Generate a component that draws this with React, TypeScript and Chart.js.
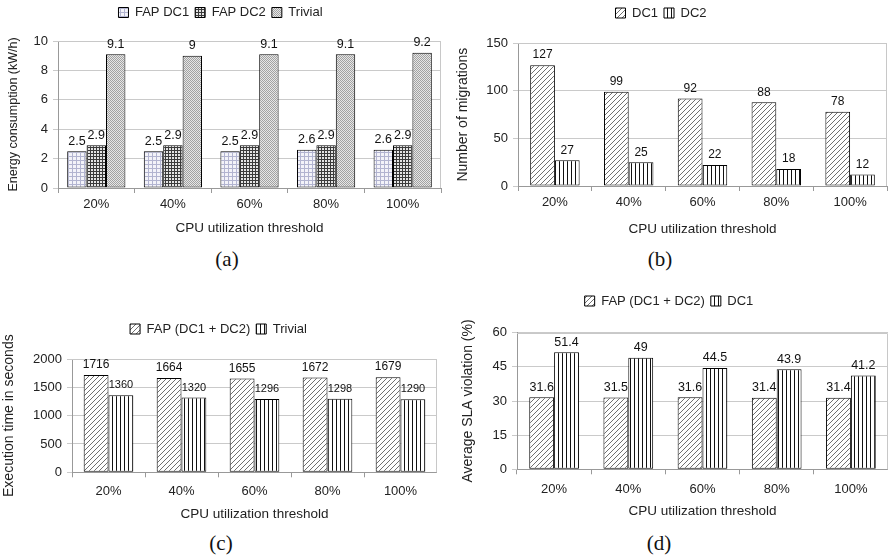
import React, { useEffect, useRef } from 'react';
import { Chart, registerables } from 'chart.js';

Chart.register(...registerables);

const FONT = '"Liberation Sans", Arial, Helvetica, sans-serif';
Chart.defaults.font.family = FONT;

// ---------- data ----------
const categories = ['20%', '40%', '60%', '80%', '100%'];
const xTitle = 'CPU utilization threshold';

const energyFapDc1 = [2.5, 2.5, 2.5, 2.6, 2.6];
const energyFapDc2 = [2.9, 2.9, 2.9, 2.9, 2.9];
const energyTrivial = [9.1, 9, 9.1, 9.1, 9.2];

const migrationsDc1 = [127, 99, 92, 88, 78];
const migrationsDc2 = [27, 25, 22, 18, 12];

const execFap = [1716, 1664, 1655, 1672, 1679];
const execTrivial = [1360, 1320, 1296, 1298, 1290];

const slaFap = [31.6, 31.5, 31.6, 31.4, 31.4];
const slaDc1 = [51.4, 49, 44.5, 43.9, 41.2];

// ---------- patterns ----------
function makePattern(kind: string): CanvasPattern | string {
  const c = document.createElement('canvas');
  const ctx = c.getContext('2d');
  if (!ctx) return '#ccc';
  if (kind === 'lightgrid') {
    c.width = 4; c.height = 4;
    ctx.fillStyle = '#f3f3f9'; ctx.fillRect(0, 0, 4, 4);
    ctx.fillStyle = '#b2b4d0'; ctx.fillRect(0, 0, 4, 1); ctx.fillRect(0, 0, 1, 4);
  } else if (kind === 'darkgrid') {
    c.width = 3; c.height = 3;
    ctx.fillStyle = '#e4e4e4'; ctx.fillRect(0, 0, 3, 3);
    ctx.fillStyle = '#3a3a3a'; ctx.fillRect(0, 0, 3, 1); ctx.fillRect(0, 0, 1, 3);
  } else if (kind === 'finecheck') {
    c.width = 2; c.height = 2;
    ctx.fillStyle = '#e6e6e6'; ctx.fillRect(0, 0, 2, 2);
    ctx.fillStyle = '#a2a2a2'; ctx.fillRect(0, 0, 1, 1); ctx.fillRect(1, 1, 1, 1);
  } else if (kind === 'diag') {
    c.width = 5; c.height = 5;
    ctx.fillStyle = '#ffffff'; ctx.fillRect(0, 0, 5, 5);
    ctx.fillStyle = '#707070';
    for (let i = 0; i < 5; i++) ctx.fillRect(i, 4 - i, 1, 1);
  } else {
    c.width = 4; c.height = 1;
    ctx.fillStyle = '#ffffff'; ctx.fillRect(0, 0, 4, 1);
    ctx.fillStyle = '#111'; ctx.fillRect(0, 0, 1, 1);
  }
  const p = ctx.createPattern(c, 'repeat');
  return p || '#ccc';
}

// ---------- plugins ----------
const legendGap = {
  id: 'legendGap',
  beforeLayout(chart: any, _a: any, opts: any) {
    const lg = chart.legend;
    if (lg && !lg.__patched) {
      const orig = lg.fit;
      lg.fit = function () {
        orig.call(this);
        this.height += (opts && opts.extra) || 0;
      };
      lg.__patched = true;
    }
  },
};

const plotBorder = {
  id: 'plotBorder',
  beforeDatasetsDraw(chart: any) {
    const { ctx, chartArea } = chart;
    ctx.save();
    ctx.strokeStyle = '#c8c8c8';
    ctx.lineWidth = 1;
    ctx.beginPath();
    ctx.moveTo(chartArea.left, Math.round(chartArea.top) + 0.5);
    ctx.lineTo(Math.round(chartArea.right) - 0.5, Math.round(chartArea.top) + 0.5);
    ctx.lineTo(Math.round(chartArea.right) - 0.5, chartArea.bottom);
    ctx.stroke();
    ctx.restore();
  },
};

const dataLabels = {
  id: 'dataLabels',
  afterDatasetsDraw(chart: any, _a: any, opts: any) {
    const ctx = chart.ctx;
    chart.data.datasets.forEach((ds: any, i: number) => {
      const meta = chart.getDatasetMeta(i);
      const size = (opts && opts.sizes && opts.sizes[i]) || 12;
      ctx.save();
      ctx.font = `${size}px ${FONT}`;
      ctx.fillStyle = '#111';
      ctx.textAlign = 'center';
      ctx.textBaseline = 'middle';
      meta.data.forEach((el: any, j: number) => {
        ctx.fillText(String(ds.data[j]), el.x, el.y - ((opts && opts.offset) || 10));
      });
      ctx.restore();
    });
  },
};

// ---------- chart specs ----------
type Series = { label: string; data: number[]; pattern: string };
type Spec = {
  box: { left: number; top: number; width: number; height: number };
  padding: { top: number; left: number; right: number; bottom: number };
  legendExtra: number;
  series: Series[];
  catPct: number;
  yMax: number;
  yStep: number;
  yTitle: string;
  yTitleSize: number;
  yTitlePad: number;
  yWidth: number;
  xHeight: number;
  xTickPad: number;
  xTitlePad: number;
  labelSizes: number[];
};

const specA: Spec = {
  box: { left: 0, top: 0, width: 445, height: 240 },
  padding: { top: 0, left: 0, right: 4, bottom: 0 },
  legendExtra: 12,
  series: [
    { label: 'FAP DC1', data: energyFapDc1, pattern: 'lightgrid' },
    { label: 'FAP DC2', data: energyFapDc2, pattern: 'darkgrid' },
    { label: 'Trivial', data: energyTrivial, pattern: 'finecheck' },
  ],
  catPct: 0.76,
  yMax: 10,
  yStep: 2,
  yTitle: 'Energy consumption (kW/h)',
  yTitleSize: 12.5,
  yTitlePad: 6.5,
  yWidth: 58,
  xHeight: 52,
  xTickPad: 4,
  xTitlePad: 3.9,
  labelSizes: [12.5, 12.5, 12.5],
};

const specB: Spec = {
  box: { left: 435, top: 0, width: 456, height: 240 },
  padding: { top: 0.5, left: 0, right: 4, bottom: 0 },
  legendExtra: 13.8,
  series: [
    { label: 'DC1', data: migrationsDc1, pattern: 'diag' },
    { label: 'DC2', data: migrationsDc2, pattern: 'vert' },
  ],
  catPct: 0.67,
  yMax: 150,
  yStep: 50,
  yTitle: 'Number of migrations',
  yTitleSize: 14,
  yTitlePad: 19.6,
  yWidth: 83,
  xHeight: 54,
  xTickPad: 4,
  xTitlePad: 2.9,
  labelSizes: [12, 12],
};

const specC: Spec = {
  box: { left: 0, top: 310, width: 437, height: 215 },
  padding: { top: 6.5, left: 0, right: 0, bottom: 0 },
  legendExtra: 13.5,
  series: [
    { label: 'FAP (DC1 + DC2)', data: execFap, pattern: 'diag' },
    { label: 'Trivial', data: execTrivial, pattern: 'vert' },
  ],
  catPct: 0.68,
  yMax: 2000,
  yStep: 500,
  yTitle: 'Execution time in seconds',
  yTitleSize: 14,
  yTitlePad: 1,
  yWidth: 72,
  xHeight: 52.7,
  xTickPad: 6,
  xTitlePad: 2.9,
  labelSizes: [12, 11],
};

const specD: Spec = {
  box: { left: 450, top: 288, width: 438, height: 235 },
  padding: { top: 0.5, left: 0, right: 0, bottom: 0 },
  legendExtra: 15.2,
  series: [
    { label: 'FAP (DC1 + DC2)', data: slaFap, pattern: 'diag' },
    { label: 'DC1', data: slaDc1, pattern: 'vert' },
  ],
  catPct: 0.67,
  yMax: 60,
  yStep: 15,
  yTitle: 'Average SLA violation (%)',
  yTitleSize: 14,
  yTitlePad: 9.6,
  yWidth: 67,
  xHeight: 53.7,
  xTickPad: 7,
  xTitlePad: 3.4,
  labelSizes: [12.5, 12.5],
};

function buildConfig(spec: Spec): any {
  return {
    type: 'bar',
    data: {
      labels: categories,
      datasets: spec.series.map((s) => ({
        label: s.label,
        data: s.data,
        backgroundColor: makePattern(s.pattern),
        borderColor: '#000',
        borderWidth: 1,
        borderSkipped: false,
        categoryPercentage: spec.catPct,
        barPercentage: 1,
      })),
    },
    options: {
      responsive: false,
      animation: false,
      events: [],
      layout: { padding: spec.padding },
      plugins: {
        legend: {
          position: 'top',
          labels: {
            boxWidth: 10,
            boxHeight: 10,
            padding: 6,
            color: '#222',
            font: { size: 13, family: FONT },
          },
        },
        tooltip: { enabled: false },
        legendGap: { extra: spec.legendExtra },
        dataLabels: { sizes: spec.labelSizes, offset: 10 },
      },
      scales: {
        x: {
          grid: { offset: true, drawOnChartArea: false, tickLength: 5, color: '#999' },
          border: { color: '#999' },
          ticks: { padding: spec.xTickPad, color: '#222', font: { size: 13, family: FONT } },
          title: {
            display: true,
            text: xTitle,
            color: '#222',
            font: { size: 13.5, family: FONT },
            padding: { top: 0, bottom: spec.xTitlePad },
          },
          afterFit: (s: any) => {
            s.height = spec.xHeight;
          },
        },
        y: {
          min: 0,
          max: spec.yMax,
          ticks: {
            stepSize: spec.yStep,
            padding: 5,
            color: '#222',
            font: { size: 13, family: FONT },
            callback: (v: any) => String(v),
          },
          grid: { color: '#cacaca', tickLength: 5 },
          border: { color: '#999' },
          title: {
            display: true,
            text: spec.yTitle,
            color: '#222',
            font: { size: spec.yTitleSize, family: FONT },
            padding: { top: spec.yTitlePad, bottom: 0 },
          },
          afterFit: (s: any) => {
            s.width = spec.yWidth;
          },
        },
      },
    },
    plugins: [legendGap, plotBorder, dataLabels],
  };
}

function BarPanel({ spec }: { spec: Spec }) {
  const ref = useRef<HTMLCanvasElement>(null);
  useEffect(() => {
    if (!ref.current) return;
    const chart = new Chart(ref.current, buildConfig(spec));
    return () => chart.destroy();
  }, [spec]);
  const { left, top, width, height } = spec.box;
  return (
    <canvas
      ref={ref}
      width={width}
      height={height}
      style={{ position: 'absolute', left, top, width, height }}
    />
  );
}

function Caption({ text, x, y }: { text: string; x: number; y: number }) {
  return (
    <div
      style={{
        position: 'absolute',
        left: x,
        top: y,
        transform: 'translate(-50%, -50%)',
        fontFamily: '"Liberation Serif", "DejaVu Serif", serif',
        fontSize: 21,
        lineHeight: 1,
        color: '#111',
        whiteSpace: 'nowrap',
      }}
    >
      {text}
    </div>
  );
}

export default function App() {
  return (
    <div
      style={{
        position: 'absolute',
        left: 0,
        top: 0,
        width: 891,
        height: 559,
        background: '#fff',
        overflow: 'hidden',
      }}
    >
      <BarPanel spec={specA} />
      <BarPanel spec={specB} />
      <BarPanel spec={specC} />
      <BarPanel spec={specD} />
      <Caption text="(a)" x={227} y={259} />
      <Caption text="(b)" x={660} y={259} />
      <Caption text="(c)" x={221} y={543} />
      <Caption text="(d)" x={659} y={543} />
    </div>
  );
}
